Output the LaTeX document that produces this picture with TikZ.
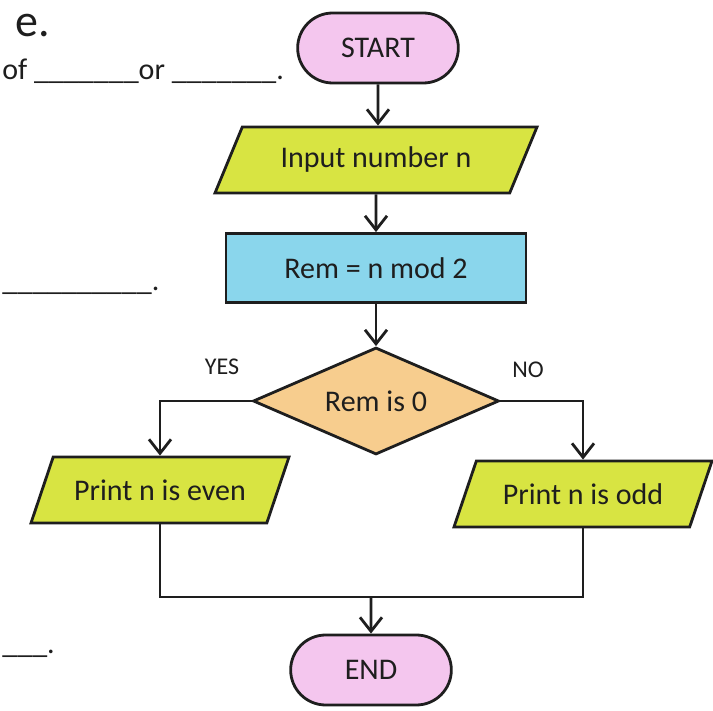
\documentclass[tikz,border=0pt]{standalone}
\usepackage{fontspec}
\setmainfont{Carlito}
\usetikzlibrary{positioning}
\usetikzlibrary{shapes.geometric}
\usetikzlibrary{shapes.misc}
\usetikzlibrary{arrows.meta}

\definecolor{termpink}{RGB}{244,198,238}
\definecolor{iogreen}{RGB}{216,228,66}
\definecolor{procblue}{RGB}{138,214,236}
\definecolor{decpeach}{RGB}{247,205,142}
\definecolor{ink}{RGB}{30,30,30}

\begin{document}
\begin{tikzpicture}[x=0.5pt,y=-0.5pt,line width=1.4pt,draw=ink,text=ink
   ,font=\fontsize{15}{18}\selectfont
   ,term/.style={rounded rectangle,draw,fill=termpink,minimum width=87pt,minimum height=35pt}
   ,io/.style={trapezium,trapezium left angle=57,trapezium right angle=123,trapezium stretches body,draw,fill=iogreen,minimum height=33pt,inner xsep=0pt}
   ,proc/.style={rectangle,draw,fill=procblue,minimum width=150pt,minimum height=34.5pt}
   ,dec/.style={diamond,aspect=2.3,draw,fill=decpeach,minimum width=123pt,minimum height=53.5pt,inner sep=0pt}
   ,arr/.style={-{Straight Barb[length=7pt,width=11pt]}}
   ,lbl/.style={font=\fontsize{12}{14}\selectfont}
   ,page/.style={inner sep=0pt}
   ]
\useasboundingbox[fill=white] (0,0) rectangle (713,711);

% page text beside the chart
\node[page,anchor=base west,font=\fontsize{23}{26}\selectfont] (head) at (14,37) {e.};
\node[page,anchor=base west] (blank1) at (1,80) {of \_\_\_\_\_\_\_or \_\_\_\_\_\_\_.};
\node[page,anchor=base west] (blank2) at (1,291) {\_\_\_\_\_\_\_\_\_\_.};
\node[page,anchor=base west] (blank3) at (1,653) {\_\_\_.};

% the chart
\node[term] (start) at (378,48) {START};
\node[io,minimum width=161pt,trapezium left angle=55,trapezium right angle=125] (input) at (376,160) {Input number n};
\node[proc] (rem) at (376,268) {Rem = n mod 2};
\node[dec] (cond) at (376,401) {Rem is 0};
\node[io,minimum width=129pt] (even) at (160,490) {Print n is even};
\node[io,minimum width=129pt] (odd) at (583,494) {Print n is odd};
\node[term] (end) at (371,670) {END};
\coordinate (join) at (371,597);

\node[lbl] (yes) at (222,367) {YES};
\node[lbl] (no) at (528,370) {NO};

\path[arr] (start) edge (start |- input.north)
           (input) edge (rem)
           (rem) edge (cond);
\draw[arr] (cond.west) -| (even.north);
\draw[arr] (cond.east) -| (odd.north);
\draw (even.south) |- (join) -| (odd.south);
\draw[arr] (join) -- (end);
\end{tikzpicture}
\end{document}
